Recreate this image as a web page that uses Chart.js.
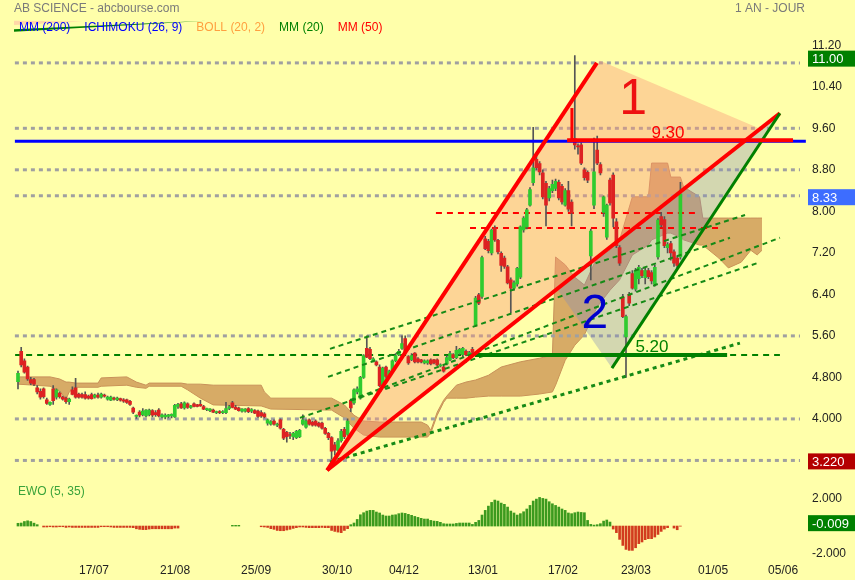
<!DOCTYPE html>
<html>
<head>
<meta charset="utf-8">
<script src="https://cdn.jsdelivr.net/npm/chart.js@4.4.1/dist/chart.umd.min.js"></script>
<style>
  html, body { margin: 0; padding: 0; background: #ffffaa; }
  #caja { width: 855px; height: 580px; }
</style>
</head>
<body>
<div id="caja"><canvas id="graficoBourse" width="855" height="580"></canvas></div>
<script>
// ---- données (x = index de séance) ----
const xTickPos = [23.75, 49.1, 74.4, 99.7, 120.6, 145.3, 170.3, 193.1, 217.2, 239.1];
const xTickLabels = ['17/07', '21/08', '25/09', '30/10', '04/12', '13/01', '17/02', '23/03', '01/05', '05/06'];
const prixTicks = [4.0, 4.8, 5.6, 6.4, 7.2, 8.0, 8.8, 9.6, 10.4, 11.2];
const ewoTicks = [-2, 2];

// [ouverture, plus haut, plus bas, clôture]
const candles = [
[4.72,4.92,4.58,4.88],[5.30,5.38,5.00,5.04],[5.12,5.16,4.88,4.90],[5.00,5.02,4.74,4.77],[4.76,4.80,4.66,4.69],
[4.76,4.78,4.64,4.67],[4.60,4.64,4.48,4.52],[4.53,4.58,4.38,4.42],[4.58,4.60,4.40,4.43],[4.37,4.40,4.28,4.30],
[4.28,4.33,4.26,4.32],[4.58,4.64,4.28,4.35],[4.42,4.58,4.38,4.56],[4.50,4.52,4.40,4.43],[4.42,4.44,4.36,4.38],
[4.40,4.42,4.30,4.33],[4.33,4.40,4.28,4.38],[4.56,4.62,4.46,4.47],[4.60,4.78,4.40,4.42],[4.48,4.50,4.40,4.42],
[4.47,4.50,4.40,4.42],[4.47,4.52,4.38,4.40],[4.44,4.46,4.38,4.40],[4.47,4.50,4.38,4.39],[4.42,4.48,4.40,4.46],
[4.46,4.50,4.40,4.42],[4.42,4.50,4.40,4.48],[4.46,4.48,4.42,4.44],[4.38,4.44,4.36,4.42],[4.36,4.44,4.35,4.42],
[4.40,4.42,4.36,4.38],[4.37,4.42,4.35,4.40],[4.39,4.40,4.34,4.36],[4.37,4.39,4.32,4.34],[4.37,4.38,4.30,4.32],
[4.34,4.36,4.26,4.28],[4.21,4.23,4.10,4.13],[4.05,4.08,4.01,4.07],[4.13,4.16,4.04,4.07],[4.08,4.20,4.06,4.15],
[4.06,4.18,4.04,4.17],[4.08,4.19,4.06,4.17],[4.16,4.18,4.04,4.07],[4.12,4.16,4.05,4.08],[4.17,4.20,4.04,4.06],
[4.04,4.10,4.02,4.08],[4.04,4.10,4.00,4.07],[4.05,4.09,4.02,4.08],[4.06,4.10,4.02,4.09],[4.04,4.28,4.03,4.26],
[4.24,4.30,4.20,4.28],[4.29,4.32,4.20,4.21],[4.21,4.33,4.19,4.31],[4.29,4.31,4.20,4.22],[4.22,4.26,4.20,4.25],
[4.29,4.31,4.23,4.24],[4.27,4.28,4.23,4.24],[4.28,4.36,4.24,4.25],[4.24,4.26,4.18,4.19],[4.18,4.21,4.16,4.19],
[4.16,4.20,4.14,4.19],[4.17,4.19,4.12,4.13],[4.12,4.15,4.10,4.14],[4.14,4.16,4.10,4.12],[4.12,4.16,4.10,4.14],
[4.12,4.32,4.10,4.20],[4.20,4.26,4.18,4.24],[4.31,4.34,4.21,4.22],[4.23,4.26,4.18,4.19],[4.21,4.23,4.15,4.16],
[4.15,4.20,4.13,4.19],[4.15,4.20,4.13,4.19],[4.20,4.22,4.12,4.14],[4.15,4.20,4.12,4.18],[4.16,4.18,4.10,4.11],
[4.15,4.17,4.03,4.05],[4.12,4.16,4.03,4.06],[4.10,4.12,4.02,4.04],[3.92,4.00,3.88,3.98],[3.90,3.97,3.88,3.95],
[3.96,3.98,3.88,3.90],[3.88,3.92,3.85,3.90],[3.98,4.00,3.80,3.82],[3.80,3.82,3.60,3.63],[3.74,3.76,3.55,3.66],
[3.70,3.74,3.62,3.68],[3.66,3.74,3.60,3.72],[3.64,3.78,3.62,3.76],[3.66,3.80,3.64,3.78],[3.90,4.08,3.88,3.98],
[3.84,3.98,3.82,3.96],[3.98,4.00,3.88,3.90],[3.94,3.96,3.86,3.88],[3.96,3.98,3.86,3.88],[3.92,3.94,3.84,3.86],
[3.92,3.94,3.80,3.82],[3.82,3.84,3.70,3.72],[3.72,3.74,3.60,3.64],[3.64,3.66,3.22,3.38],[3.50,3.55,3.30,3.40],
[3.40,3.62,3.38,3.58],[3.58,3.80,3.55,3.76],[3.80,3.84,3.62,3.66],[3.70,4.00,3.68,3.96],[4.36,4.38,4.14,4.21],
[4.31,4.58,4.28,4.56],[4.52,4.62,4.48,4.58],[4.40,4.82,4.38,4.80],[4.80,5.24,4.78,5.22],[5.36,5.60,5.18,5.19],
[5.34,5.38,5.14,5.16],[5.12,5.18,5.10,5.16],[5.10,5.12,5.02,5.04],[5.00,5.04,4.62,4.64],[4.66,5.00,4.64,4.98],
[5.00,5.02,4.78,4.82],[4.84,4.94,4.80,4.92],[4.92,5.14,4.90,5.12],[5.12,5.26,5.10,5.22],[5.24,5.34,5.22,5.30],
[5.36,5.60,5.34,5.45],[5.55,5.60,5.25,5.27],[5.20,5.22,5.05,5.08],[5.14,5.26,5.12,5.22],[5.27,5.28,5.08,5.10],
[5.16,5.18,5.08,5.10],[5.14,5.15,5.08,5.10],[5.08,5.14,5.06,5.12],[5.08,5.14,5.05,5.12],[5.14,5.16,5.04,5.06],
[5.14,5.15,5.06,5.08],[5.14,5.16,5.02,5.04],[5.02,5.06,5.00,5.04],[5.00,5.02,4.90,4.92],[5.06,5.22,5.04,5.18],
[5.14,5.30,5.12,5.26],[5.24,5.26,5.16,5.18],[5.18,5.40,5.16,5.32],[5.26,5.36,5.24,5.34],[5.24,5.38,5.20,5.36],
[5.30,5.33,5.22,5.24],[5.22,5.30,5.18,5.28],[5.34,5.38,5.24,5.28],[5.81,6.36,5.78,6.33],[6.39,6.42,6.20,6.23],
[6.36,7.14,6.32,7.11],[7.47,7.52,7.26,7.28],[7.42,7.46,7.20,7.24],[7.20,7.66,7.16,7.64],[7.68,7.72,7.42,7.45],
[7.44,7.46,7.18,7.22],[7.19,7.22,6.84,6.96],[7.10,7.14,6.90,6.94],[6.93,6.96,6.60,6.62],[6.68,6.72,6.04,6.52],
[6.52,6.66,6.48,6.62],[6.60,6.92,6.56,6.90],[6.73,7.72,6.70,7.70],[7.64,7.90,7.60,7.87],[7.70,8.06,7.66,8.03],
[8.12,8.46,8.10,8.42],[8.55,9.62,8.50,8.84],[9.00,9.10,8.80,8.84],[8.92,8.96,8.70,8.76],[8.74,8.80,8.24,8.28],
[8.54,8.58,7.72,8.12],[8.26,8.48,8.20,8.44],[8.40,8.60,8.36,8.52],[8.44,8.62,8.40,8.58],[8.56,8.60,8.22,8.26],
[8.48,8.52,8.14,8.18],[8.12,8.44,8.10,8.40],[8.40,8.58,8.00,8.04],[8.18,8.22,7.72,7.97],[9.40,11.00,9.20,9.28],
[9.26,9.30,9.10,9.24],[9.28,9.32,8.90,8.93],[8.80,8.84,8.60,8.65],[8.75,8.78,8.55,8.60],[7.14,7.66,6.68,7.62],
[8.12,9.41,8.05,8.76],[9.18,9.45,8.90,8.93],[8.90,8.94,8.70,8.74],[7.98,8.30,7.90,8.28],[7.50,8.14,7.46,8.12],
[8.60,8.64,8.12,8.16],[8.70,8.74,7.70,7.87],[7.80,7.86,7.30,7.34],[7.30,7.34,6.96,7.00],[6.35,6.40,5.95,5.97],
[5.58,6.00,4.80,5.97],[6.40,6.44,6.18,6.23],[6.80,6.86,6.50,6.52],[6.50,6.90,6.46,6.86],[6.70,6.96,6.60,6.92],
[6.86,6.90,6.72,6.76],[6.72,6.90,6.60,6.86],[6.86,6.90,6.70,6.74],[6.82,6.86,6.60,6.66],[6.60,6.96,6.56,6.92],
[7.12,7.86,7.08,7.83],[7.90,7.98,7.70,7.74],[7.84,7.90,7.30,7.34],[7.30,7.40,7.20,7.36],[7.38,7.42,7.06,7.20],
[7.22,7.26,6.94,7.00],[7.10,7.14,6.90,6.96],[7.12,8.56,7.08,8.33]
];

// EWO (5, 35), une valeur par séance
const ewo = [
0.20,0.22,0.33,0.38,0.33,0.21,0.10,null,
-0.07,-0.07,-0.05,-0.07,-0.07,-0.05,-0.05,-0.10,-0.07,-0.10,-0.10,-0.10,-0.10,-0.10,-0.10,-0.10,-0.10,-0.10,
-0.05,-0.05,-0.05,-0.07,-0.10,-0.10,-0.10,-0.10,-0.10,-0.10,-0.12,
-0.20,-0.24,-0.26,-0.26,-0.22,-0.20,-0.20,-0.20,-0.20,-0.20,-0.20,-0.20,-0.15,-0.15,
null,null,null,null,null,null,null,null,null,null,null,null,null,null,null,null,
0.05,0.05,0.05,
null,null,null,null,null,null,
-0.05,-0.07,-0.10,-0.19,-0.24,-0.32,-0.34,-0.34,-0.29,-0.24,-0.17,-0.12,-0.07,-0.07,
-0.10,-0.12,-0.12,-0.12,-0.12,-0.10,-0.12,-0.12,
-0.32,-0.39,-0.44,-0.48,-0.32,-0.19,
0.10,0.22,0.48,0.82,0.97,1.09,1.14,1.14,1.02,0.95,
0.80,0.73,0.73,0.80,0.82,0.90,0.95,0.92,0.85,0.78,
0.70,0.63,0.56,0.51,0.51,0.41,0.36,0.34,0.27,0.17,
0.15,0.15,0.15,0.19,0.22,0.22,0.22,0.22,0.12,0.27,
0.41,0.80,1.14,1.45,1.72,1.89,1.82,1.67,1.58,1.38,
1.09,0.95,0.80,0.90,1.04,1.24,1.50,1.82,1.96,2.08,
2.01,1.96,1.77,1.62,1.50,1.38,1.24,1.14,0.95,0.90,
0.97,1.02,0.99,0.97,0.41,0.12,0.07,0.10,0.17,0.36,
0.44,0.29,
-0.22,-0.48,-0.97,-1.41,-1.70,-1.77,-1.77,-1.58,-1.28,-1.16,
-0.99,-0.92,-0.92,-0.80,-0.61,-0.39,-0.22,-0.12,null,-0.15,-0.27,
-0.01
];

// nuage Ichimoku (bord haut / bord bas)
const cloudX = [0,10,13,15,16,18,25,26,34,37,40,41,51,53,57,61,76,77,79,98,102,105,108,113,126,128,129,131,133,134,
  137,140,143,147,151,157,163,167,168,171,174,177,181,185,188,192,197,198,203,204,207,208,213,214,219,222,226,229,231,232.5];
const cloudTop = [4.81,4.81,4.77,4.71,4.71,4.69,4.69,4.79,4.81,4.71,4.65,4.69,4.69,4.67,4.67,4.65,4.65,4.52,4.40,4.40,
  4.27,4.07,3.96,3.94,3.94,3.88,3.78,4.13,4.36,4.44,4.65,4.71,4.75,4.84,5.00,5.10,5.17,5.23,7.12,6.97,
  6.73,6.58,7.12,7.25,7.45,8.28,8.28,8.93,8.93,8.66,8.66,8.47,8.28,7.87,7.87,7.87,7.87,7.87,7.87,7.87];
const cloudBottom = [4.67,4.63,4.54,4.38,4.52,4.61,4.61,4.63,4.65,4.61,4.59,4.63,4.63,4.56,4.40,4.27,4.25,4.23,4.19,4.17,
  4.02,3.82,3.69,3.65,3.65,3.65,3.73,4.07,4.32,4.40,4.40,4.40,4.42,4.44,4.44,4.44,4.48,4.52,4.65,5.13,
  5.42,5.62,6.16,6.48,6.68,7.16,7.35,7.45,7.58,7.58,7.50,7.45,7.35,7.35,7.10,6.91,7.02,7.25,7.16,7.25];

// tracés de l'utilisateur [index, cours]
const niveauxGris = [10.86, 9.6, 8.8, 8.3, 5.6, 4.0, 3.2];
const triangle1 = [[96.6, 3.01], [181.9, 10.90], [231.9, 9.59]];
const triangle2 = [[168.75, 6.48], [185.6, 4.98], [238.1, 9.89]];
const droiteRouge1 = [[96.6, 3.01], [180.9, 10.86]];
const droiteRouge2 = [[96.6, 3.01], [238.1, 9.89]];
const droiteVerte = [[185.6, 4.98], [238.1, 9.89]];
const canalVert = [
  [[88.1, 4.02], [231.9, 7.02]],
  [[103.75, 4.36], [238.1, 7.49]],
  [[96.9, 4.81], [222.5, 7.49]],
  [[97.5, 5.35], [227.2, 7.93]]
];
const supportPointille = [[97.5, 3.17], [225.6, 5.46]];
const ligneBleue = 9.35;
const ligne930 = { de: 171.6, a: 242.2, v: 9.37, tick: [173.1, 9.99] };
const ligne520 = { v: 5.23, de: -0.9, a: 238.1, pleinDe: 142.8, pleinA: 221.6 };
const rougesPointilles = [[130.6, 213.1, 7.97], [141.25, 219.4, 7.68]];

const fondJaune = '#ffffaa';
const vert = '#2fcb2f', rouge = '#dd2222';

function pt(chart, p) {
  return [chart.scales.x.getPixelForValue(p[0]), chart.scales.y.getPixelForValue(p[1])];
}
function trait(chart, a, b, couleur, largeur, tirets) {
  const c = chart.ctx;
  const [x1, y1] = pt(chart, a), [x2, y2] = pt(chart, b);
  c.save();
  c.strokeStyle = couleur; c.lineWidth = largeur; c.setLineDash(tirets || []);
  c.beginPath(); c.moveTo(x1, y1); c.lineTo(x2, y2); c.stroke();
  c.restore();
}
function polygone(chart, pts, couleur) {
  const c = chart.ctx;
  c.save(); c.fillStyle = couleur; c.beginPath();
  pts.forEach((p, i) => { const [x, y] = pt(chart, p); i ? c.lineTo(x, y) : c.moveTo(x, y); });
  c.closePath(); c.fill(); c.restore();
}
function texte(chart, p, str, couleur, taille) {
  const c = chart.ctx; const [x, y] = pt(chart, p);
  c.save(); c.fillStyle = couleur; c.font = taille + 'px "Liberation Sans", Arial, sans-serif';
  c.textAlign = 'center'; c.textBaseline = 'middle'; c.fillText(str, x, y); c.restore();
}
function etiquette(chart, id, v, str, fond, decal) {
  const s = chart.scales[id], c = chart.ctx;
  const y = s.getPixelForValue(v) + decal;
  c.save();
  c.fillStyle = fond; c.fillRect(s.left + 8, y - 8, chart.width - s.left - 8, 16);
  c.fillStyle = '#fff'; c.font = '13px "Liberation Sans", Arial, sans-serif';
  c.textAlign = 'left'; c.textBaseline = 'middle'; c.fillText(str, s.left + 12, y + 1);
  c.restore();
}

const dessins = {
  id: 'dessins',
  beforeDraw(chart) {
    const c = chart.ctx;
    c.save(); c.fillStyle = fondJaune; c.fillRect(0, 0, chart.width, chart.height); c.restore();
  },
  beforeDatasetDraw(chart, args) {
    if (chart.data.datasets[args.index].label !== 'mèches') return;
    const xs = chart.scales.x;
    niveauxGris.forEach(v => trait(chart, [xs.min + 0.9, v], [xs.max, v], '#a0a0a0', 3, [4, 4]));
    polygone(chart, triangle1, 'rgba(250,150,120,0.40)');
    polygone(chart, triangle2, 'rgba(130,140,190,0.35)');
    rougesPointilles.forEach(r => trait(chart, [r[0], r[2]], [r[1], r[2]], '#ff0000', 2, [6, 5]));
    trait(chart, [ligne520.de, ligne520.v], [ligne520.a, ligne520.v], '#008000', 2, [6, 5]);
  },
  afterDatasetsDraw(chart) {
    const c = chart.ctx, xs = chart.scales.x;
    trait(chart, [xs.min + 0.9, ligneBleue], [246.2, ligneBleue], '#0000ff', 3);
    canalVert.forEach(l => trait(chart, l[0], l[1], '#168a16', 2, [5, 4]));
    trait(chart, supportPointille[0], supportPointille[1], '#168a16', 3, [4, 4]);
    trait(chart, [ligne520.pleinDe, ligne520.v], [ligne520.pleinA, ligne520.v], '#008000', 4);
    trait(chart, droiteRouge1[0], droiteRouge1[1], '#ff0000', 4);
    trait(chart, droiteRouge2[0], droiteRouge2[1], '#ff0000', 4);
    trait(chart, droiteVerte[0], droiteVerte[1], '#008000', 3);
    trait(chart, [ligne930.de, ligne930.v], [ligne930.a, ligne930.v], '#ff0000', 4);
    trait(chart, [ligne930.tick[0], ligne930.tick[1]], [ligne930.tick[0], ligne930.v], '#ff0000', 3);
    texte(chart, [192.2, 10.15], '1', '#ee1111', 50);
    texte(chart, [180.3, 6.0], '2', '#0000cc', 48);
    texte(chart, [203.1, 9.51], '9.30', '#ff0000', 17);
    texte(chart, [198.1, 5.38], '5.20', '#008000', 17);

    // petit tracé vert en haut à gauche
    polygone(chart, [[-1.25, 11.67], [20.3, 11.66], [-1.25, 11.59]], '#ffd8a8');
    polygone(chart, [[-1.25, 11.51], [-1.25, 11.46], [59.06, 11.67]], '#008000');

    c.save();
    c.font = '12px "Liberation Sans", Arial, sans-serif';
    c.textBaseline = 'middle';
    c.fillStyle = '#7a7a7a'; c.textAlign = 'left';
    c.fillText('AB SCIENCE - abcbourse.com', 14, 9);
    c.textAlign = 'right';
    c.fillText('1 AN - JOUR', 805, 9);
    c.textAlign = 'left';
    const legende = [['MM (200)', '#0000ff'], ['ICHIMOKU (26, 9)', '#0000ff'], ['BOLL (20, 2)', '#ffa040'],
                     ['MM (20)', '#008000'], ['MM (50)', '#ff0000']];
    let x = 19;
    legende.forEach(([t, col]) => { c.fillStyle = col; c.fillText(t, x, 28); x += c.measureText(t).width + 14; });
    c.fillStyle = '#3aa33a';
    c.fillText('EWO (5, 35)', 18, chart.scales.ewo.top + 16);
    c.restore();

    etiquette(chart, 'y', 11.0, '11.00', '#008000', 3);
    etiquette(chart, 'y', 8.33, '8.33', '#3d6dff', 3);
    etiquette(chart, 'y', 3.22, '3.220', '#b40000', 2);
    etiquette(chart, 'ewo', -0.009, '-0.009', '#008000', -3);
  }
};

const corps = candles.map((c, k) => ({ x: k, y: [c[0], c[3]] }));
const meches = candles.map((c, k) => ({ x: k, y: [c[2], c[1]] }));
const couleurs = candles.map(c => c[3] >= c[0] ? vert : rouge);
const ewoData = ewo.map((v, k) => ({ x: k, y: v }));
const ewoCouleurs = ewo.map(v => v >= 0 ? '#3c9a1e' : '#d23c1e');

Chart.defaults.font.family = '"Liberation Sans", Arial, sans-serif';
Chart.defaults.font.size = 12;
Chart.defaults.color = '#222';

let graficoBourse = document.getElementById('graficoBourse').getContext('2d');
let chart = new Chart(graficoBourse, {
  type: 'bar',
  data: {
    datasets: [
      {
        type: 'line', label: 'nuage haut', yAxisID: 'y', order: 10,
        data: cloudX.map((x, i) => ({ x: x, y: cloudTop[i] })),
        borderColor: '#c8915a', borderWidth: 1, pointRadius: 0,
        backgroundColor: 'rgba(205,150,85,0.8)', fill: '+1', tension: 0
      },
      {
        type: 'line', label: 'nuage bas', yAxisID: 'y', order: 10,
        data: cloudX.map((x, i) => ({ x: x, y: cloudBottom[i] })),
        borderColor: '#c8915a', borderWidth: 1, pointRadius: 0, fill: false, tension: 0
      },
      {
        label: 'mèches', yAxisID: 'y', order: 3, data: meches,
        backgroundColor: '#555', barThickness: 1, grouped: false
      },
      {
        label: 'bougies', yAxisID: 'y', order: 2, data: corps,
        backgroundColor: couleurs, barThickness: 3, grouped: false, minBarLength: 1
      },
      {
        label: 'EWO', yAxisID: 'ewo', order: 1, data: ewoData,
        backgroundColor: ewoCouleurs, barThickness: 2, grouped: false
      }
    ]
  },
  options: {
    responsive: false,
    animation: false,
    layout: { padding: { top: 24.5, left: 12, right: 0, bottom: 0 } },
    plugins: { legend: { display: false }, tooltip: { enabled: false } },
    scales: {
      x: {
        type: 'linear', min: -1.875, max: 244.375, offset: false,
        grid: { display: false, drawTicks: false }, border: { display: false },
        afterBuildTicks: s => { s.ticks = xTickPos.map(v => ({ value: v })); },
        afterFit: s => { s.height = 20; },
        ticks: { autoSkip: false, maxRotation: 0, padding: 3, callback: (v, i) => xTickLabels[i] }
      },
      y: {
        type: 'linear', position: 'right', stack: 'panneaux', stackWeight: 451.5,
        min: 2.9, max: 11.6,
        grid: { display: false, drawTicks: false }, border: { display: false },
        afterBuildTicks: s => { s.ticks = prixTicks.map(v => ({ value: v })); },
        afterFit: s => { s.width = 55; },
        ticks: { autoSkip: false, padding: 12, callback: v => v < 5 ? v.toFixed(3) : v.toFixed(2) }
      },
      ewo: {
        type: 'linear', position: 'right', stack: 'panneaux', stackWeight: 84,
        min: -2.47, max: 3.64,
        grid: { display: false, drawTicks: false }, border: { display: false },
        afterBuildTicks: s => { s.ticks = ewoTicks.map(v => ({ value: v })); },
        afterFit: s => { s.width = 55; },
        ticks: { autoSkip: false, padding: 12, callback: v => v.toFixed(3) }
      }
    }
  },
  plugins: [dessins]
});
</script>
</body>
</html>
